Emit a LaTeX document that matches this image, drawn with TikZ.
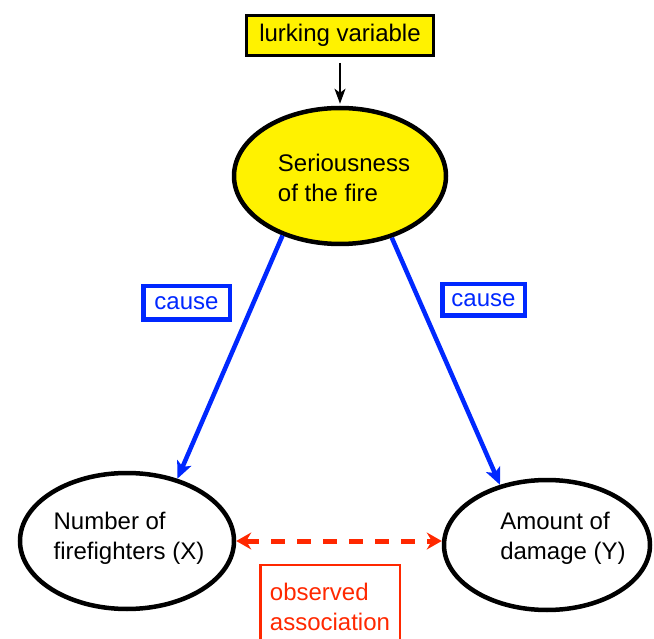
\documentclass[tikz,border=0pt]{standalone}
\usepackage{fontspec}
\setmainfont{Liberation Sans}
\usetikzlibrary{shapes.geometric,arrows.meta}
\definecolor{causeblue}{RGB}{0,40,255}
\definecolor{assocred}{RGB}{255,40,0}

\begin{document}
\begin{tikzpicture}[x=1pt,y=-1pt,
  every node/.style={font=\fontsize{24}{30}\selectfont},
  blob/.style={ellipse,draw,line width=4.5pt,inner sep=0pt,align=left},
  causebox/.style={draw=causeblue,text=causeblue,line width=4.5pt,inner sep=0pt},
  causearrow/.style={draw=causeblue,line width=4.5pt,-{Stealth[length=17pt,width=15pt,inset=4pt]}},
  assocarrow/.style={draw=assocred,line width=5pt,dash pattern=on 14pt off 12pt,
    {Stealth[length=15pt,width=17pt,inset=5pt]}-{Stealth[length=15pt,width=17pt,inset=5pt]}}]
  \clip (0,0) rectangle (654,639);
  \fill[white] (0,0) rectangle (654,639);
  % the hidden cause
  \node[draw,fill=yellow,line width=3pt,minimum width=187pt,minimum height=40pt,inner sep=0pt] (lurk) at (340,35.5) {lurking variable};
  \node[blob,fill=yellow,minimum width=212pt,minimum height=136pt] (seri) at (340,176) {};
  \node[align=left] (seritxt) at (344,178) {Seriousness\\of the fire};
  % the two observed variables
  \node[blob,minimum width=214pt,minimum height=136pt] (numff) at (127,541) {};
  \node[align=left] (numfftxt) at (129,538) {Number of\\firefighters (X)};
  \node[blob,minimum width=206pt,minimum height=130pt] (damage) at (547,545) {};
  \node[align=left] (damagetxt) at (563,538) {Amount of\\damage (Y)};
  \node[causebox,minimum width=86.5pt,minimum height=33.5pt] (causel) at (186.5,303) {cause};
  \node[causebox,minimum width=82.5pt,minimum height=31.5pt] (causer) at (483.5,300) {cause};
  \node[draw=assocred,text=assocred,line width=2.5pt,minimum width=139.5pt,minimum height=84pt,align=left] (assoc) at (330,607) {observed\\association};
  % connectors
  \draw[line width=1.5pt,-{Stealth[length=15pt,width=11pt,inset=4pt]},shorten <=6pt,shorten >=2pt] (lurk) -- (seri);
  \draw[causearrow] (seri.226) -- (numff.51);
  \draw[causearrow] (seri.310) -- (damage.128);
  \draw[assocarrow] (numff.east) -- (numff.east -| damage.west);
\end{tikzpicture}
\end{document}
